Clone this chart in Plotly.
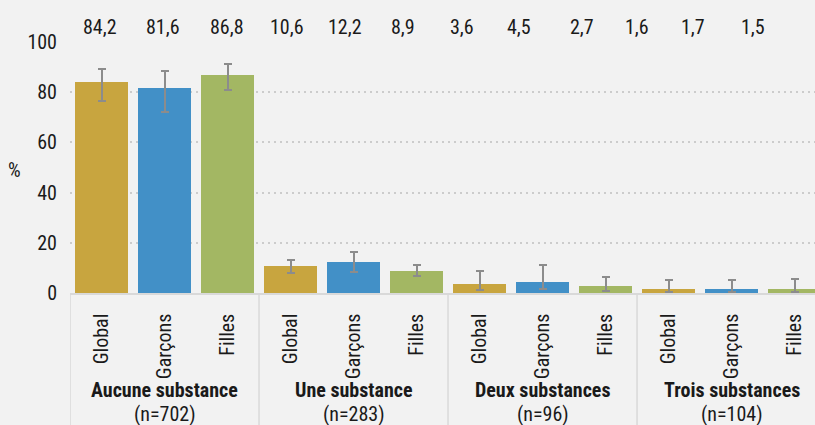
import plotly.graph_objects as go

# ---- data ----
groups = ["Aucune substance", "Une substance", "Deux substances", "Trois substances"]
group_n = ["(n=702)", "(n=283)", "(n=96)", "(n=104)"]
series = ["Global", "Garçons", "Filles"]

global_vals = [84.2, 10.6, 3.6, 1.6]
garcons_vals = [81.6, 12.2, 4.5, 1.7]
filles_vals = [86.8, 8.9, 2.7, 1.5]

global_low = [76.5, 8.1, 1.2, 0.4]
global_high = [89.4, 13.1, 8.8, 5.2]
garcons_low = [72.1, 8.4, 1.6, 0.4]
garcons_high = [88.4, 16.5, 11.2, 5.2]
filles_low = [80.8, 6.8, 0.9, 0.4]
filles_high = [91.4, 11.0, 6.4, 5.6]

y_ticks = [0, 20, 40, 60, 80, 100]

# ---- styles ----
colors = ["#c8a53f", "#4290c7", "#a3b763"]
font_family = "Roboto Condensed, DejaVu Sans Condensed, sans-serif"
font_size = 20
text_color = "#1a1a1a"
label_xshift = [-1.5, -1.5, -0.5, -3.5, -8.5, -13.5, -17.5, -23.5, -23.5, -31.5, -38.5, -41.5]

values = [global_vals, garcons_vals, filles_vals]
lows = [global_low, garcons_low, filles_low]
highs = [global_high, garcons_high, filles_high]

n_series = len(series)
fig = go.Figure()
for s in range(n_series):
    xs = [g * n_series + s for g in range(len(groups))]
    fig.add_trace(go.Bar(
        x=xs, y=values[s], name=series[s], width=0.84,
        marker=dict(color=colors[s], line=dict(width=0)),
        error_y=dict(type="data", symmetric=False,
                     array=[h - v for h, v in zip(highs[s], values[s])],
                     arrayminus=[v - l for v, l in zip(values[s], lows[s])],
                     color="#8c8c8c", thickness=2, width=4),
        showlegend=False,
    ))

# category tick labels
tickvals = []
ticktext = []
for g in range(len(groups)):
    for s in range(n_series):
        tickvals.append(g * n_series + s)
        ticktext.append(series[s])

fnt = dict(size=font_size, color=text_color, family=font_family)

annotations = []
# value labels on top
k = 0
for g in range(len(groups)):
    for s in range(n_series):
        v = values[s][g]
        annotations.append(dict(
            x=g * n_series + s, xref="x", y=1.06, yref="paper",
            text=f"{v:.1f}".replace(".", ","), showarrow=False,
            xshift=label_xshift[k], yanchor="middle", font=fnt))
        k += 1

# group labels
for g in range(len(groups)):
    cx = g * n_series + (n_series - 1) / 2
    annotations.append(dict(
        x=cx, xref="x", y=-0.386, yref="paper", text=f"<b>{groups[g]}</b>",
        showarrow=False, yanchor="middle", font=fnt))
    annotations.append(dict(
        x=cx, xref="x", y=-0.482, yref="paper", text=group_n[g],
        showarrow=False, yanchor="middle", font=fnt))

# % label
annotations.append(dict(
    x=-0.074, xref="paper", y=0.49, yref="paper", text="%", showarrow=False,
    xanchor="center", yanchor="middle", font=fnt))

# separators
shapes = []
for g in range(len(groups) + 1):
    xb = g * n_series - 0.5
    shapes.append(dict(type="line", xref="x", yref="paper", x0=xb, x1=xb,
                       y0=0, y1=-0.6, line=dict(color="#d9d9d9", width=1.5),
                       layer="below"))

fig.update_layout(
    width=815, height=425,
    margin=dict(l=70, r=0, t=42, b=132),
    paper_bgcolor="#f2f2f2", plot_bgcolor="#f2f2f2",
    font=fnt,
    bargap=0,
    annotations=annotations,
    shapes=shapes,
    xaxis=dict(range=[-0.5, 11.325], tickvals=tickvals, ticktext=ticktext,
               tickangle=-90, showgrid=False, zeroline=False,
               showline=True, linecolor="#d9d9d9", linewidth=1.5,
               ticks="", ticklabelstandoff=11, tickfont=fnt),
    yaxis=dict(range=[0, 100], tickvals=y_ticks, showgrid=True,
               gridcolor="#cccccc", griddash="2px,4px", gridwidth=1.5,
               zeroline=False, showline=False, ticks="", ticklabelstandoff=12,
               tickfont=fnt),
)

fig.write_html("out.html", config={"displayModeBar": False},
               post_script="document.body.style.margin='0';document.body.style.overflow='hidden';")
